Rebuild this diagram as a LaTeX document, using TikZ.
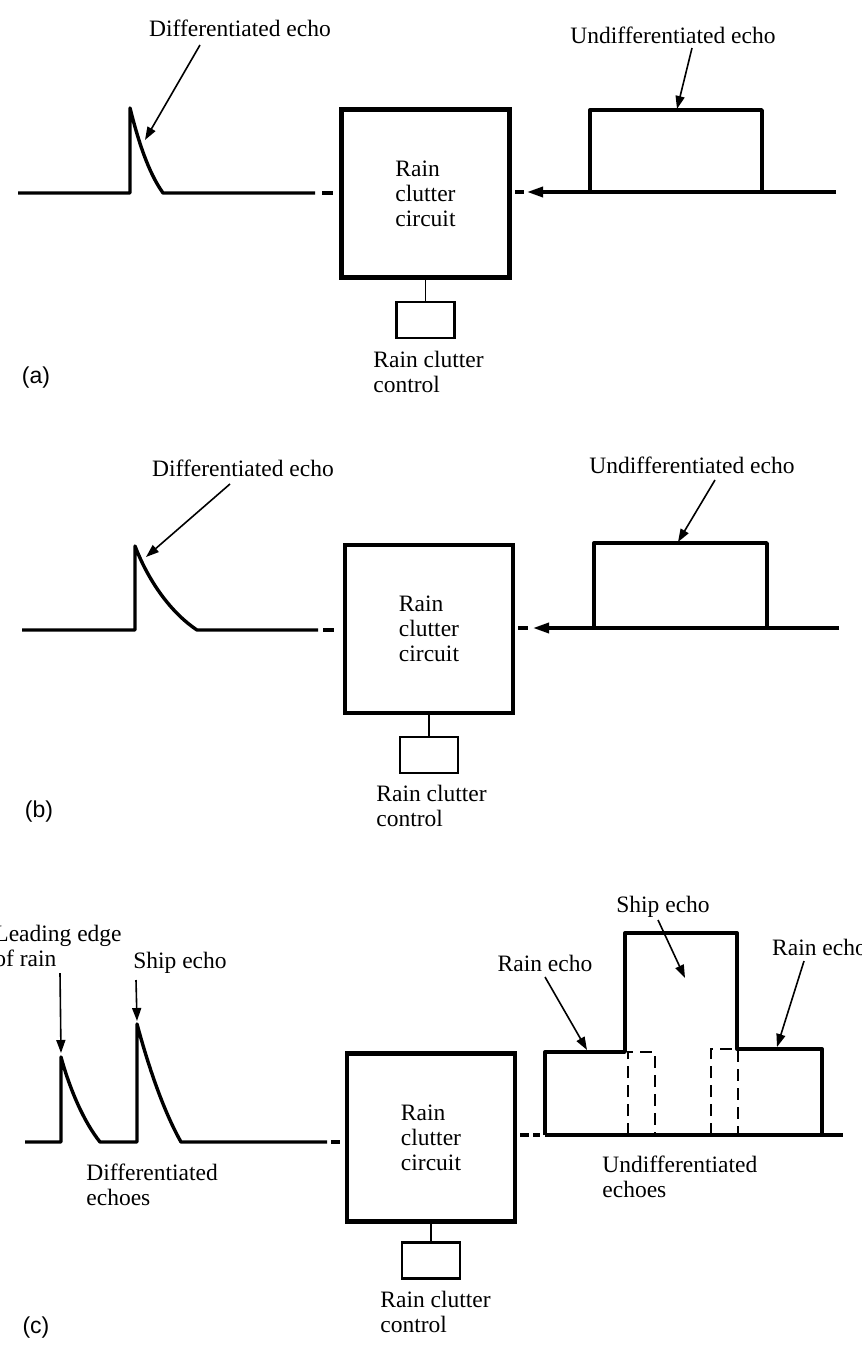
\documentclass[tikz,border=0pt]{standalone}
\usepackage{fontspec}
\setmainfont{Liberation Serif}
\newfontfamily\labsans{Liberation Sans}
\usetikzlibrary{arrows.meta}
\newcommand\figtxt{\fontsize{11.75}{12.5}\selectfont}
\begin{document}
\begin{tikzpicture}[x=0.5pt,y=-0.5pt,
  sig/.style={line width=1.7pt, line join=round},
  circuitbox/.style={draw, line width=2.1pt, minimum width=84pt, minimum height=84pt, inner sep=0pt, align=left, font=\figtxt},
  ctrlbox/.style={draw, line width=1.1pt, minimum width=29pt, minimum height=18pt, inner sep=0pt},
  stemline/.style={line width=0.9pt},
  lbl/.style={font=\figtxt, inner sep=0pt},
  lbl2/.style={font=\figtxt, inner sep=0pt, align=left, anchor=west},
  ptr/.style={line width=0.8pt, -{Triangle[length=6.5pt,width=4.5pt]}},
  bigtip/.style={sig, -{Triangle[length=8pt,width=5pt]}},
  dashline/.style={line width=0.9pt, dash pattern=on 6pt off 3.5pt},
  tag/.style={font=\labsans\fontsize{11.5}{12}\selectfont, inner sep=0pt}]
\useasboundingbox (0,0) rectangle (861,1347);

% ---------------- (a) ----------------
\node[circuitbox] (boxA) at (425.5,193.5) {Rain\\clutter\\circuit};
\node[ctrlbox] (ctrlA) at (425.5,320) {};
\draw[stemline] (boxA.south) -- (ctrlA.north);
\node[lbl2] (rcA) at (373,371.5) {Rain clutter\\control};
\node[tag] (tagA) at (36,378) {(a)};

\draw[sig] (18,193) -- (130,193) -- (130,108) .. controls (138,140) and (148,172) .. (163,193) -- (315,193);
\coordinate (dAl1) at (322,193); \coordinate (dAl2) at (333,193);
\draw[sig] (dAl1) -- (dAl2);
\node[lbl] (deA) at (240,28) {Differentiated echo};
\coordinate (deAtip) at (145,140);
\draw[ptr] (200,45) -- (deAtip);

\coordinate (inA) at (836,192);
\coordinate (arA) at (527,192);
\draw[bigtip] (inA) -- (arA);
\draw[sig] (590,192) -- (590,110) -- (762,110) -- (762,192);
\coordinate (dAr1) at (515,192); \coordinate (dAr2) at (524,192);
\draw[sig] (dAr1) -- (dAr2);
\node[lbl] (ueA) at (673,35) {Undifferentiated echo};
\coordinate (ueAtip) at (677,109);
\draw[ptr] (692,48) -- (ueAtip);

% ---------------- (b) ----------------
\node[circuitbox] (boxB) at (429,629) {Rain\\clutter\\circuit};
\node[ctrlbox] (ctrlB) at (429,755) {};
\draw[stemline] (boxB.south) -- (ctrlB.north);
\node[lbl2] (rcB) at (376,805.5) {Rain clutter\\control};
\node[tag] (tagB) at (39,812) {(b)};

\draw[sig] (22,630) -- (135,630) -- (135,546) .. controls (148,580) and (170,612) .. (197,630) -- (318,630);
\coordinate (dBl1) at (323,630); \coordinate (dBl2) at (334,630);
\draw[sig] (dBl1) -- (dBl2);
\node[lbl] (deB) at (243,468) {Differentiated echo};
\coordinate (deBtip) at (146,557);
\draw[ptr] (230,484) -- (deBtip);

\coordinate (inB) at (839,628);
\coordinate (arB) at (533,628);
\draw[bigtip] (inB) -- (arB);
\draw[sig] (594,628) -- (594,543) -- (767,543) -- (767,628);
\coordinate (dBr1) at (518,628); \coordinate (dBr2) at (528,628);
\draw[sig] (dBr1) -- (dBr2);
\node[lbl] (ueB) at (692,465) {Undifferentiated echo};
\coordinate (ueBtip) at (678,542);
\draw[ptr] (715,480) -- (ueBtip);

% ---------------- (c) ----------------
\node[circuitbox] (boxC) at (431,1137.5) {Rain\\clutter\\circuit};
\node[ctrlbox] (ctrlC) at (431,1260.5) {};
\draw[stemline] (boxC.south) -- (ctrlC.north);
\node[lbl2] (rcC) at (380,1311.5) {Rain clutter\\control};
\node[tag] (tagC) at (36,1328) {(c)};

\draw[sig] (25,1142) -- (61,1142) -- (61,1057) .. controls (70,1090) and (84,1122) .. (100,1142) -- (137,1142) -- (137,1024) .. controls (148,1065) and (163,1110) .. (181,1142) -- (327,1142);
\coordinate (dCl1) at (331,1142); \coordinate (dCl2) at (340,1142);
\draw[sig] (dCl1) -- (dCl2);

\node[lbl2] (leC) at (-6,946) {Leading edge\\of rain};
\coordinate (leCtip) at (61,1053);
\draw[ptr] (60,973) -- (leCtip);
\node[lbl] (seC) at (180,963) {Ship echo};
\coordinate (seCtip) at (137,1021);
\draw[ptr] (136,980) -- (seCtip);
\node[lbl2] (dfC) at (86,1184.5) {Differentiated\\echoes};

\coordinate (dCr1) at (520,1135); \coordinate (dCr2) at (529,1135);
\coordinate (dCr3) at (533,1135); \coordinate (dCr4) at (540,1135);
\draw[sig] (dCr1) -- (dCr2) (dCr3) -- (dCr4);
\draw[sig] (545,1135) -- (843,1135);
\draw[sig] (545,1135) -- (545,1052) -- (625,1052) -- (625,933) -- (737,933) -- (737,1049) -- (822,1049) -- (822,1135);
\draw[dashline] (628,1135) -- (628,1052) -- (655,1052) -- (655,1135);
\draw[dashline] (711,1135) -- (711,1049) -- (738,1049) -- (738,1135);

\node[lbl] (shipR) at (663,907) {Ship echo};
\coordinate (shipRtip) at (685,978);
\draw[ptr] (658,920) -- (shipRtip);
\node[lbl] (rainL) at (545,963) {Rain echo};
\coordinate (rainLtip) at (587,1050);
\draw[ptr] (545,977) -- (rainLtip);
\node[lbl] (rainR) at (819.5,947) {Rain echo};
\coordinate (rainRtip) at (777,1047);
\draw[ptr] (804,961) -- (rainRtip);
\node[lbl2] (udC) at (602,1176.5) {Undifferentiated\\echoes};
\end{tikzpicture}
\end{document}
